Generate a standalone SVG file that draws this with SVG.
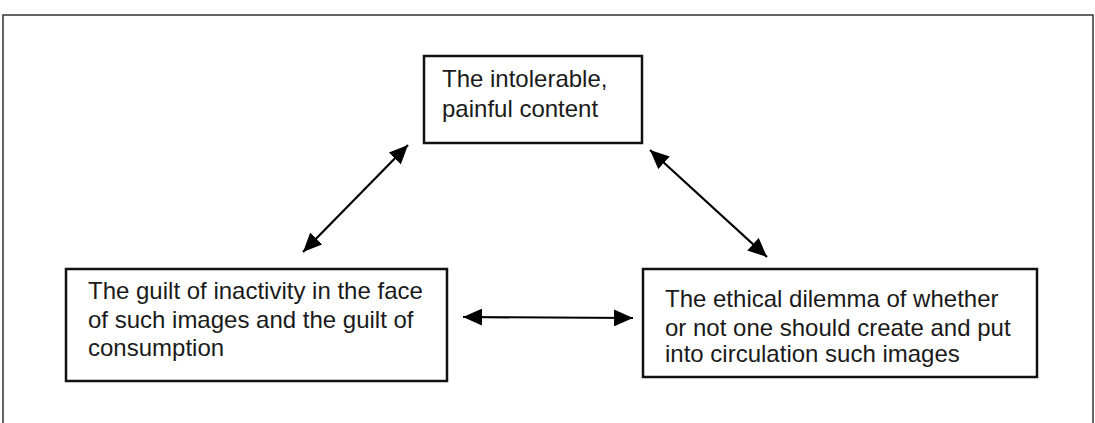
<svg xmlns="http://www.w3.org/2000/svg" width="1095" height="423" viewBox="0 0 1095 423">
<style>
.box{fill:#fff;stroke:#111;stroke-width:2.5}
.t{font-family:"Liberation Sans",Arial,sans-serif;font-size:24px;fill:#1a1a1a}
.c{stroke:#000;stroke-width:2.2;fill:none;marker-start:url(#ah);marker-end:url(#ah)}
</style>
<defs>
<marker id="ah" viewBox="0 0 10 10" refX="10" refY="5" markerWidth="19" markerHeight="17" markerUnits="userSpaceOnUse" orient="auto-start-reverse" preserveAspectRatio="none">
<path d="M0,0 L10,5 L0,10 z" fill="#000"/>
</marker>
</defs>
<rect width="1095" height="423" fill="#fff"/>
<path d="M3,430 V15 H1093 V430" fill="none" stroke="#333" stroke-width="1.5"/>
<g id="node-content">
<rect class="box" x="424" y="56" width="218" height="87"/>
<text class="t" x="442" y="87">The intolerable,</text>
<text class="t" x="442" y="117">painful content</text>
</g>
<g id="node-guilt">
<rect class="box" x="66" y="269" width="381" height="112"/>
<text class="t" x="88" y="299">The guilt of inactivity in the face</text>
<text class="t" x="88" y="328">of such images and the guilt of</text>
<text class="t" x="88" y="356">consumption</text>
</g>
<g id="node-dilemma">
<rect class="box" x="643" y="269" width="394" height="108"/>
<text class="t" x="665" y="307">The ethical dilemma of whether</text>
<text class="t" x="665" y="336">or not one should create and put</text>
<text class="t" x="665" y="362">into circulation such images</text>
</g>
<g id="connectors">
<line class="c" x1="303" y1="252" x2="408" y2="145"/>
<line class="c" x1="650" y1="150" x2="767" y2="257"/>
<line class="c" x1="463" y1="317" x2="633" y2="318"/>
</g>
</svg>
